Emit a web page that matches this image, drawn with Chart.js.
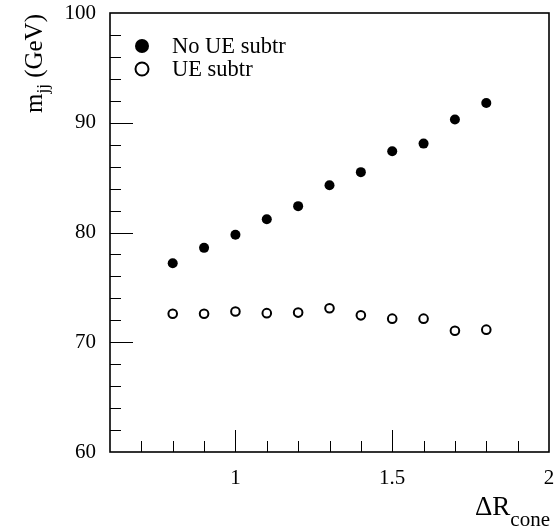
<!DOCTYPE html>
<html>
<head>
  <meta charset="UTF-8">
  <script src="https://cdn.jsdelivr.net/npm/chart.js@4.4.0/dist/chart.umd.min.js"></script>
  <style>
    body { margin: 0; background: #fff; }
    #wrap { width: 560px; height: 532px; }
  </style>
</head>
<body>
  <div id="wrap"><canvas id="myChart" width="560" height="532"></canvas></div>
  <script>
    // cone size and dijet mass
    let coneR = [0.8, 0.9, 1.0, 1.1, 1.2, 1.3, 1.4, 1.5, 1.6, 1.7, 1.8];
    let noSubtr = [77.2, 78.6, 79.8, 81.2, 82.4, 84.3, 85.5, 87.4, 88.1, 90.3, 91.8];
    let ueSubtr = [72.6, 72.6, 72.8, 72.65, 72.7, 73.1, 72.45, 72.15, 72.15, 71.05, 71.15];
    let xTickLabels = [1, 1.5, 2];
    let yTickLabels = [60, 70, 80, 90, 100];
    let seriesNames = ['No UE subtr', 'UE subtr'];

    const FONT = '"Liberation Serif", "Times New Roman", serif';

    function pts(ys) {
      return coneR.map(function (x, i) { return { x: x, y: ys[i] }; });
    }

    // frame, inward ticks, legend and axis titles
    let decor = {
      id: 'decor',
      afterDraw: function (chart) {
        let c = chart.ctx;
        let a = chart.chartArea;
        let xs = chart.scales.x;
        let ys = chart.scales.y;
        c.save();
        c.strokeStyle = '#000';
        c.lineWidth = 1;
        // x ticks
        for (let v = 7; v <= 19; v++) {
          let px = Math.round(xs.getPixelForValue(v / 10)) + 0.5;
          let len = (v === 10 || v === 15) ? 22 : 11;
          c.beginPath();
          c.moveTo(px, a.bottom);
          c.lineTo(px, a.bottom - len);
          c.stroke();
        }
        // y ticks
        for (let v = 62; v < 100; v += 2) {
          let py = Math.round(ys.getPixelForValue(v)) + 0.5;
          let len = (v % 10 === 0) ? 23 : 11;
          c.beginPath();
          c.moveTo(a.left, py);
          c.lineTo(a.left + len, py);
          c.stroke();
        }
        // frame
        c.lineWidth = 1.6;
        c.strokeRect(a.left, a.top, a.right - a.left, a.bottom - a.top);

        // legend
        let sets = chart.data.datasets;
        c.font = '22.5px ' + FONT;
        c.textBaseline = 'middle';
        c.fillStyle = '#000';
        sets.forEach(function (ds, i) {
          let ly = a.top + 33 + i * 23;
          let lx = a.left + 32;
          c.beginPath();
          c.arc(lx, ly, ds.pointBackgroundColor === '#000' ? 7 : 6.5, 0, Math.PI * 2);
          if (ds.pointBackgroundColor === '#000') {
            c.fillStyle = '#000';
            c.fill();
          } else {
            c.lineWidth = 2;
            c.fillStyle = '#fff';
            c.fill();
            c.stroke();
          }
          c.fillStyle = '#000';
          c.fillText(ds.label, a.left + 62, ly + 1);
        });

        // x title: ΔR_cone
        c.textBaseline = 'alphabetic';
        c.textAlign = 'left';
        c.font = '27px ' + FONT;
        let tx = 475, ty = 515;
        c.fillText('\u0394R', tx, ty);
        let w = c.measureText('\u0394R').width;
        c.font = '21px ' + FONT;
        c.fillText('cone', tx + w, ty + 11);

        // y title: m_jj (GeV), rotated
        c.translate(42, 113);
        c.rotate(-Math.PI / 2);
        c.font = '25px ' + FONT;
        c.fillText('m', 0, 0);
        let mw = c.measureText('m').width;
        c.font = '17px ' + FONT;
        c.fillText('jj', mw, 6);
        let jw = c.measureText('jj').width;
        c.font = '25px ' + FONT;
        c.fillText(' (GeV)', mw + jw, 0);
        c.restore();
      }
    };

    let ctx = document.getElementById('myChart').getContext('2d');
    let chart = new Chart(ctx, {
      type: 'scatter',
      data: {
        datasets: [{
          label: seriesNames[0],
          data: pts(noSubtr),
          pointRadius: 5,
          pointBackgroundColor: '#000',
          pointBorderColor: '#000',
          pointBorderWidth: 0
        },
        {
          label: seriesNames[1],
          data: pts(ueSubtr),
          pointRadius: 4.3,
          pointBackgroundColor: '#fff',
          pointBorderColor: '#000',
          pointBorderWidth: 2
        }]
      },
      options: {
        responsive: false,
        animation: false,
        layout: { padding: { top: 13, right: 11, left: 0, bottom: 0 } },
        plugins: {
          legend: { display: false },
          tooltip: { enabled: false }
        },
        scales: {
          x: {
            type: 'linear',
            min: 0.6,
            max: 2,
            grid: { display: false, drawTicks: false },
            border: { display: false },
            afterBuildTicks: function (s) {
              s.ticks = xTickLabels.map(function (v) { return { value: v }; });
            },
            afterFit: function (s) {
              s.height = 80;
              s.paddingLeft = 0;
              s.paddingRight = 0;
            },
            ticks: {
              padding: 14,
              color: '#000',
              font: { family: FONT, size: 21 },
              maxRotation: 0,
              callback: function (v) { return String(v); }
            }
          },
          y: {
            min: 60,
            max: 100,
            grid: { display: false, drawTicks: false },
            border: { display: false },
            afterBuildTicks: function (s) {
              s.ticks = yTickLabels.map(function (v) { return { value: v }; });
            },
            afterFit: function (s) {
              s.width = 110;
              s.paddingTop = 0;
              s.paddingBottom = 0;
            },
            ticks: {
              padding: 14,
              color: '#000',
              font: { family: FONT, size: 21 }
            }
          }
        }
      },
      plugins: [decor]
    });
  </script>
</body>
</html>
